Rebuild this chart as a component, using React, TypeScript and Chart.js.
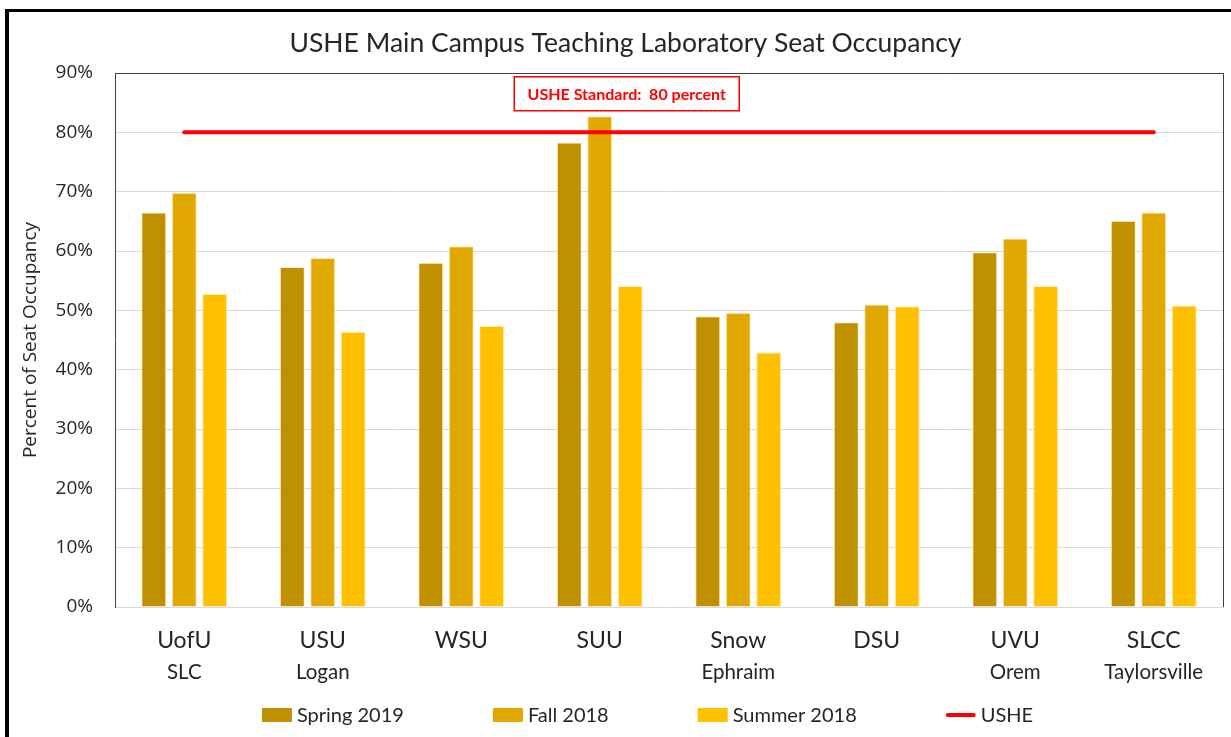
import React, { useEffect, useRef } from "react";
import { Chart, registerables } from "chart.js";

Chart.register(...registerables);

const categories = ["UofU", "USU", "WSU", "SUU", "Snow", "DSU", "UVU", "SLCC"];
const subLabels = ["SLC", "Logan", "", "", "Ephraim", "", "Orem", "Taylorsville"];
const spring2019 = [66.5, 57.3, 58.0, 78.3, 49.0, 48.0, 59.8, 65.1];
const fall2018 = [69.8, 58.8, 60.8, 82.7, 49.6, 51.0, 62.1, 66.5];
const summer2018 = [52.8, 46.4, 47.4, 54.1, 42.9, 50.7, 54.1, 50.8];
const usheStandard = [80, 80, 80, 80, 80, 80, 80, 80];
const seriesNames = ["Spring 2019", "Fall 2018", "Summer 2018", "USHE"];
const seriesColors = ["#BF9000", "#E0A800", "#FFC000", "#FF0000"];
const titleText = "USHE Main Campus Teaching Laboratory Seat Occupancy";
const yAxisTitle = "Percent of Seat Occupancy";
const annotationText = "USHE Standard:  80 percent";

const CAL = "Lato, 'Open Sans', sans-serif";
const SEG = "'Open Sans', 'Noto Sans', sans-serif";

const decorPlugin = {
  id: "decor",
  afterDraw(chart: any) {
    const { ctx, chartArea, scales } = chart;
    const { left, right, top, bottom } = chartArea;
    const x = scales.x;
    const y = scales.y;
    ctx.save();
    // plot frame (top & right)
    ctx.strokeStyle = "#404040";
    ctx.lineWidth = 1;
    ctx.beginPath();
    ctx.moveTo(left, Math.round(top) + 0.5);
    ctx.lineTo(Math.round(right) + 0.5, Math.round(top) + 0.5);
    ctx.lineTo(Math.round(right) + 0.5, bottom);
    ctx.stroke();

    // title
    ctx.fillStyle = "#262626";
    ctx.font = `26.5px ${CAL}`;
    ctx.textAlign = "center";
    ctx.textBaseline = "middle";
    ctx.fillText(titleText, (chart.width + 20) / 2, 43);

    // sub labels under categories
    ctx.font = `20.5px ${CAL}`;
    ctx.fillStyle = "#262626";
    subLabels.forEach((s, i) => {
      if (s) ctx.fillText(s, x.getPixelForValue(i), 672);
    });

    // annotation box
    const cx = x.getPixelForValue(3) + 27;
    const cy = y.getPixelForValue(86.5);
    const bw = 225;
    const bh = 34;
    ctx.fillStyle = "#ffffff";
    ctx.fillRect(cx - bw / 2, cy - bh / 2, bw, bh);
    ctx.strokeStyle = "#FF0000";
    ctx.lineWidth = 1.5;
    ctx.strokeRect(cx - bw / 2, cy - bh / 2, bw, bh);
    ctx.fillStyle = "#FF0000";
    ctx.font = `bold 16px ${CAL}`;
    ctx.fillText(annotationText, cx, cy + 1);

    // legend
    ctx.font = `20px ${CAL}`;
    ctx.textAlign = "left";
    const items = chart.data.datasets.map((ds: any, i: number) => ({
      label: ds.label as string,
      color: seriesColors[i],
      line: ds.type === "line",
    }));
    const gap = 89;
    const boxW = 30;
    const textOff = 35;
    const widths = items.map((it: any) => textOff + ctx.measureText(it.label).width);
    const total = widths.reduce((a: number, b: number) => a + b, 0) + gap * (items.length - 1);
    let lx = (chart.width + 64) / 2 - total / 2;
    const ly = 715;
    items.forEach((it: any, i: number) => {
      if (it.line) {
        ctx.strokeStyle = it.color;
        ctx.lineWidth = 4;
        ctx.lineCap = "round";
        ctx.beginPath();
        ctx.moveTo(lx + 2, ly);
        ctx.lineTo(lx + boxW - 2, ly);
        ctx.stroke();
      } else {
        ctx.fillStyle = it.color;
        ctx.fillRect(lx, ly - 7, boxW, 14);
      }
      ctx.fillStyle = "#262626";
      ctx.fillText(it.label, lx + textOff, ly + 1);
      lx += widths[i] + gap;
    });
    ctx.restore();
  },
};

export default function App() {
  const ref = useRef<HTMLCanvasElement>(null);
  useEffect(() => {
    const canvas = ref.current!;
    const barBorder = "rgba(255,236,180,0.9)";
    const barOpts = {
      borderColor: barBorder,
      borderWidth: 1,
      categoryPercentage: 0.66,
      barPercentage: 0.82,
      order: 1,
    };
    const chart = new Chart(canvas, {
      type: "bar",
      data: {
        labels: categories,
        datasets: [
          { label: seriesNames[0], data: spring2019, backgroundColor: seriesColors[0], ...barOpts } as any,
          { label: seriesNames[1], data: fall2018, backgroundColor: seriesColors[1], ...barOpts },
          { label: seriesNames[2], data: summer2018, backgroundColor: seriesColors[2], ...barOpts },
          {
            type: "line",
            label: seriesNames[3],
            data: usheStandard,
            borderColor: seriesColors[3],
            backgroundColor: seriesColors[3],
            borderWidth: 4,
            pointRadius: 0,
            borderCapStyle: "round",
            order: 0,
          },
        ],
      },
      options: {
        responsive: false,
        animation: false,
        layout: { padding: { left: 0, right: 8, top: 73, bottom: 10 } },
        scales: {
          x: {
            offset: true,
            grid: { display: false, drawTicks: false },
            border: { color: "#D9D9D9", width: 1 },
            ticks: {
              color: "#262626",
              font: { family: CAL, size: 23 },
              padding: 20,
              maxRotation: 0,
              autoSkip: false,
            },
            afterFit(scale: any) {
              scale.height = 120;
            },
          },
          y: {
            min: 0,
            max: 90,
            grid: { color: "#D9D9D9", lineWidth: 1, drawTicks: false },
            border: { color: "#404040", width: 1 },
            ticks: {
              stepSize: 10,
              color: "#262626",
              font: { family: SEG, size: 19 },
              padding: 22,
              callback: (v: any) => v + "%",
            },
            title: {
              display: true,
              text: yAxisTitle,
              color: "#262626",
              font: { family: SEG, size: 19 },
              padding: { top: 19, bottom: 0 },
            },
            afterFit(scale: any) {
              scale.width = 115;
            },
          },
        },
        plugins: {
          title: { display: false },
          tooltip: { enabled: false },
          legend: { display: false },
        },
      },
      plugins: [decorPlugin],
    });
    return () => chart.destroy();
  }, []);

  return (
    <div
      style={{
        position: "absolute",
        left: 0,
        top: 0,
        width: 1231,
        height: 737,
        overflow: "hidden",
        background: "#fff",
      }}
    >
      <canvas ref={ref} width={1231} height={737} style={{ display: "block" }} />
      <div
        style={{
          position: "absolute",
          left: 5,
          top: 9,
          right: -10,
          bottom: -10,
          borderLeft: "4px solid #000",
          borderTop: "3px solid #000",
          pointerEvents: "none",
        }}
      />
    </div>
  );
}
